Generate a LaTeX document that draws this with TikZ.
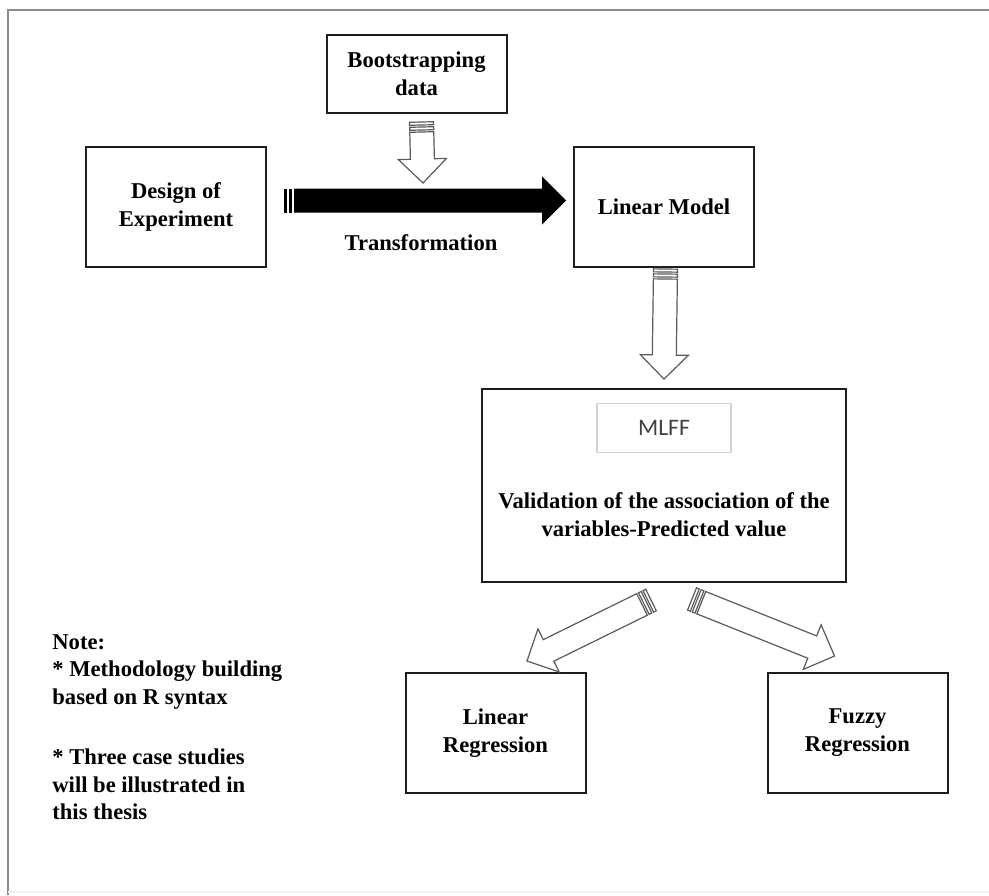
\documentclass[tikz,border=0pt]{standalone}
\usepackage{fontspec}
\setmainfont{Liberation Serif}
\newfontfamily\calibri{Carlito}
\usepackage{tikz}
\usetikzlibrary{positioning,calc}
\definecolor{framegray}{HTML}{8C8C8C}
\definecolor{boxline}{HTML}{1E1E1E}
\definecolor{hollowline}{HTML}{5A5A5A}
\definecolor{mlffline}{HTML}{D2D2D2}
\definecolor{mlfftext}{HTML}{404040}
\tikzset{
  box/.style={draw=boxline, line width=1pt, align=center, font=\fontsize{11.3}{14}\selectfont\bfseries, minimum width=90pt, minimum height=60pt, inner sep=2pt},
  txt/.style={align=center, font=\fontsize{11.3}{14}\selectfont\bfseries, inner sep=0pt},
  note/.style={align=left, font=\fontsize{11.3}{13.75}\selectfont\bfseries, inner sep=0pt},
  mlff/.style={draw=mlffline, line width=0.6pt, minimum width=67pt, minimum height=24.5pt, font=\calibri\fontsize{11.8}{14}\selectfont, text=mlfftext},
  hollow/.style={draw=hollowline, line width=0.6pt, fill=white},
  blackarr/.style={draw=none, fill=black},
}
% striped block arrow from tail #2 to tip #3
\newcommand{\blockarrow}[3][hollow]{%
  \coordinate (ba-t) at (#2);
  \coordinate (ba-h) at (#3);
  \coordinate (ba-n) at ($(ba-h)!12pt!(ba-t)$);
  \foreach \bo/\bn in {0pt/a,1.5pt/b,2.5pt/c,4pt/d,5pt/e}
    \coordinate (ba-\bn) at ($(ba-t)!\bo!(ba-h)$);
  \draw[#1] ($(ba-e)!6pt!90:(ba-h)$) -- ($(ba-n)!6pt!-90:(ba-t)$) -- ($(ba-n)!12pt!-90:(ba-t)$) -- (ba-h)
    -- ($(ba-n)!12pt!90:(ba-t)$) -- ($(ba-n)!6pt!90:(ba-t)$) -- ($(ba-e)!6pt!-90:(ba-h)$) -- cycle;
  \foreach \bp/\bq in {a/b,c/d}
    \draw[#1] ($(ba-\bp)!6pt!90:(ba-h)$) -- ($(ba-\bq)!6pt!90:(ba-h)$) -- ($(ba-\bq)!6pt!-90:(ba-h)$) -- ($(ba-\bp)!6pt!-90:(ba-h)$) -- cycle;
}

\begin{document}
\begin{tikzpicture}[x=0.5pt, y=-0.5pt]
    \useasboundingbox (0,0) rectangle (989,895);
    \fill[white] (0,0) rectangle (989,895);
    \draw[framegray, line width=1.2pt] (989,10) -- (8,10) -- (8,895);
    \draw[gray!12, line width=1pt] (8,892) -- (989,892);

    \node[box] (doe) at (176,207) {Design of\\Experiment};
    \node[box, right=153pt of doe] (lm) {Linear Model};
    \node[box, minimum height=39pt] (boot) at (416.5,74) {Bootstrapping\\data};
    \node[box, below=60pt of lm, minimum width=182pt, minimum height=96.5pt] (val) {};
    \node[mlff, below=7.5pt of val.north] (mlffbox) {MLFF};
    \node[txt] (valtxt) at ($(val.center)+(0,29)$) {Validation of the association of the\\variables-Predicted value};
    \node[box] (lr) at (495.5,733) {Linear\\Regression};
    \node[box, right=90pt of lr] (fr) {Fuzzy\\Regression};
    \node[note, anchor=north west] (nt) at (52,634) {Note:\\* Methodology building\\based on R syntax\\[16.5pt]* Three case studies\\will be illustrated in\\this thesis};

    \coordinate (tfA) at ($(doe.east)+(17,-6.5)$);
    \coordinate (tfB) at ($(lm.west)+(-7,-6.5)$);
    \coordinate (bsA) at ($(boot.south)+(5,8)$);
    \coordinate (bsB) at ($(tfA)!.5!(tfB)+(-2,-17.5)$);
    \coordinate (lmA) at ($(lm.south)+(1.5,1)$);
    \coordinate (lmB) at ($(val.north)+(0,-9)$);
    \coordinate (lrA) at ($(val.south)+(-13,17)$);
    \coordinate (lrB) at ($(lr.north)+(31.5,-11)$);
    \coordinate (frA) at ($(val.south)+(28,16)$);
    \coordinate (frB) at ($(fr.north)+(-23,-16)$);

    \blockarrow[blackarr]{tfA}{tfB}
    \node[txt] (tf) at ($(tfA)!.5!(tfB)+(-4,42.5)$) {Transformation};
    \blockarrow{bsA}{bsB}
    \blockarrow{lmA}{lmB}
    \blockarrow{lrA}{lrB}
    \blockarrow{frA}{frB}
  \end{tikzpicture}
\end{document}
